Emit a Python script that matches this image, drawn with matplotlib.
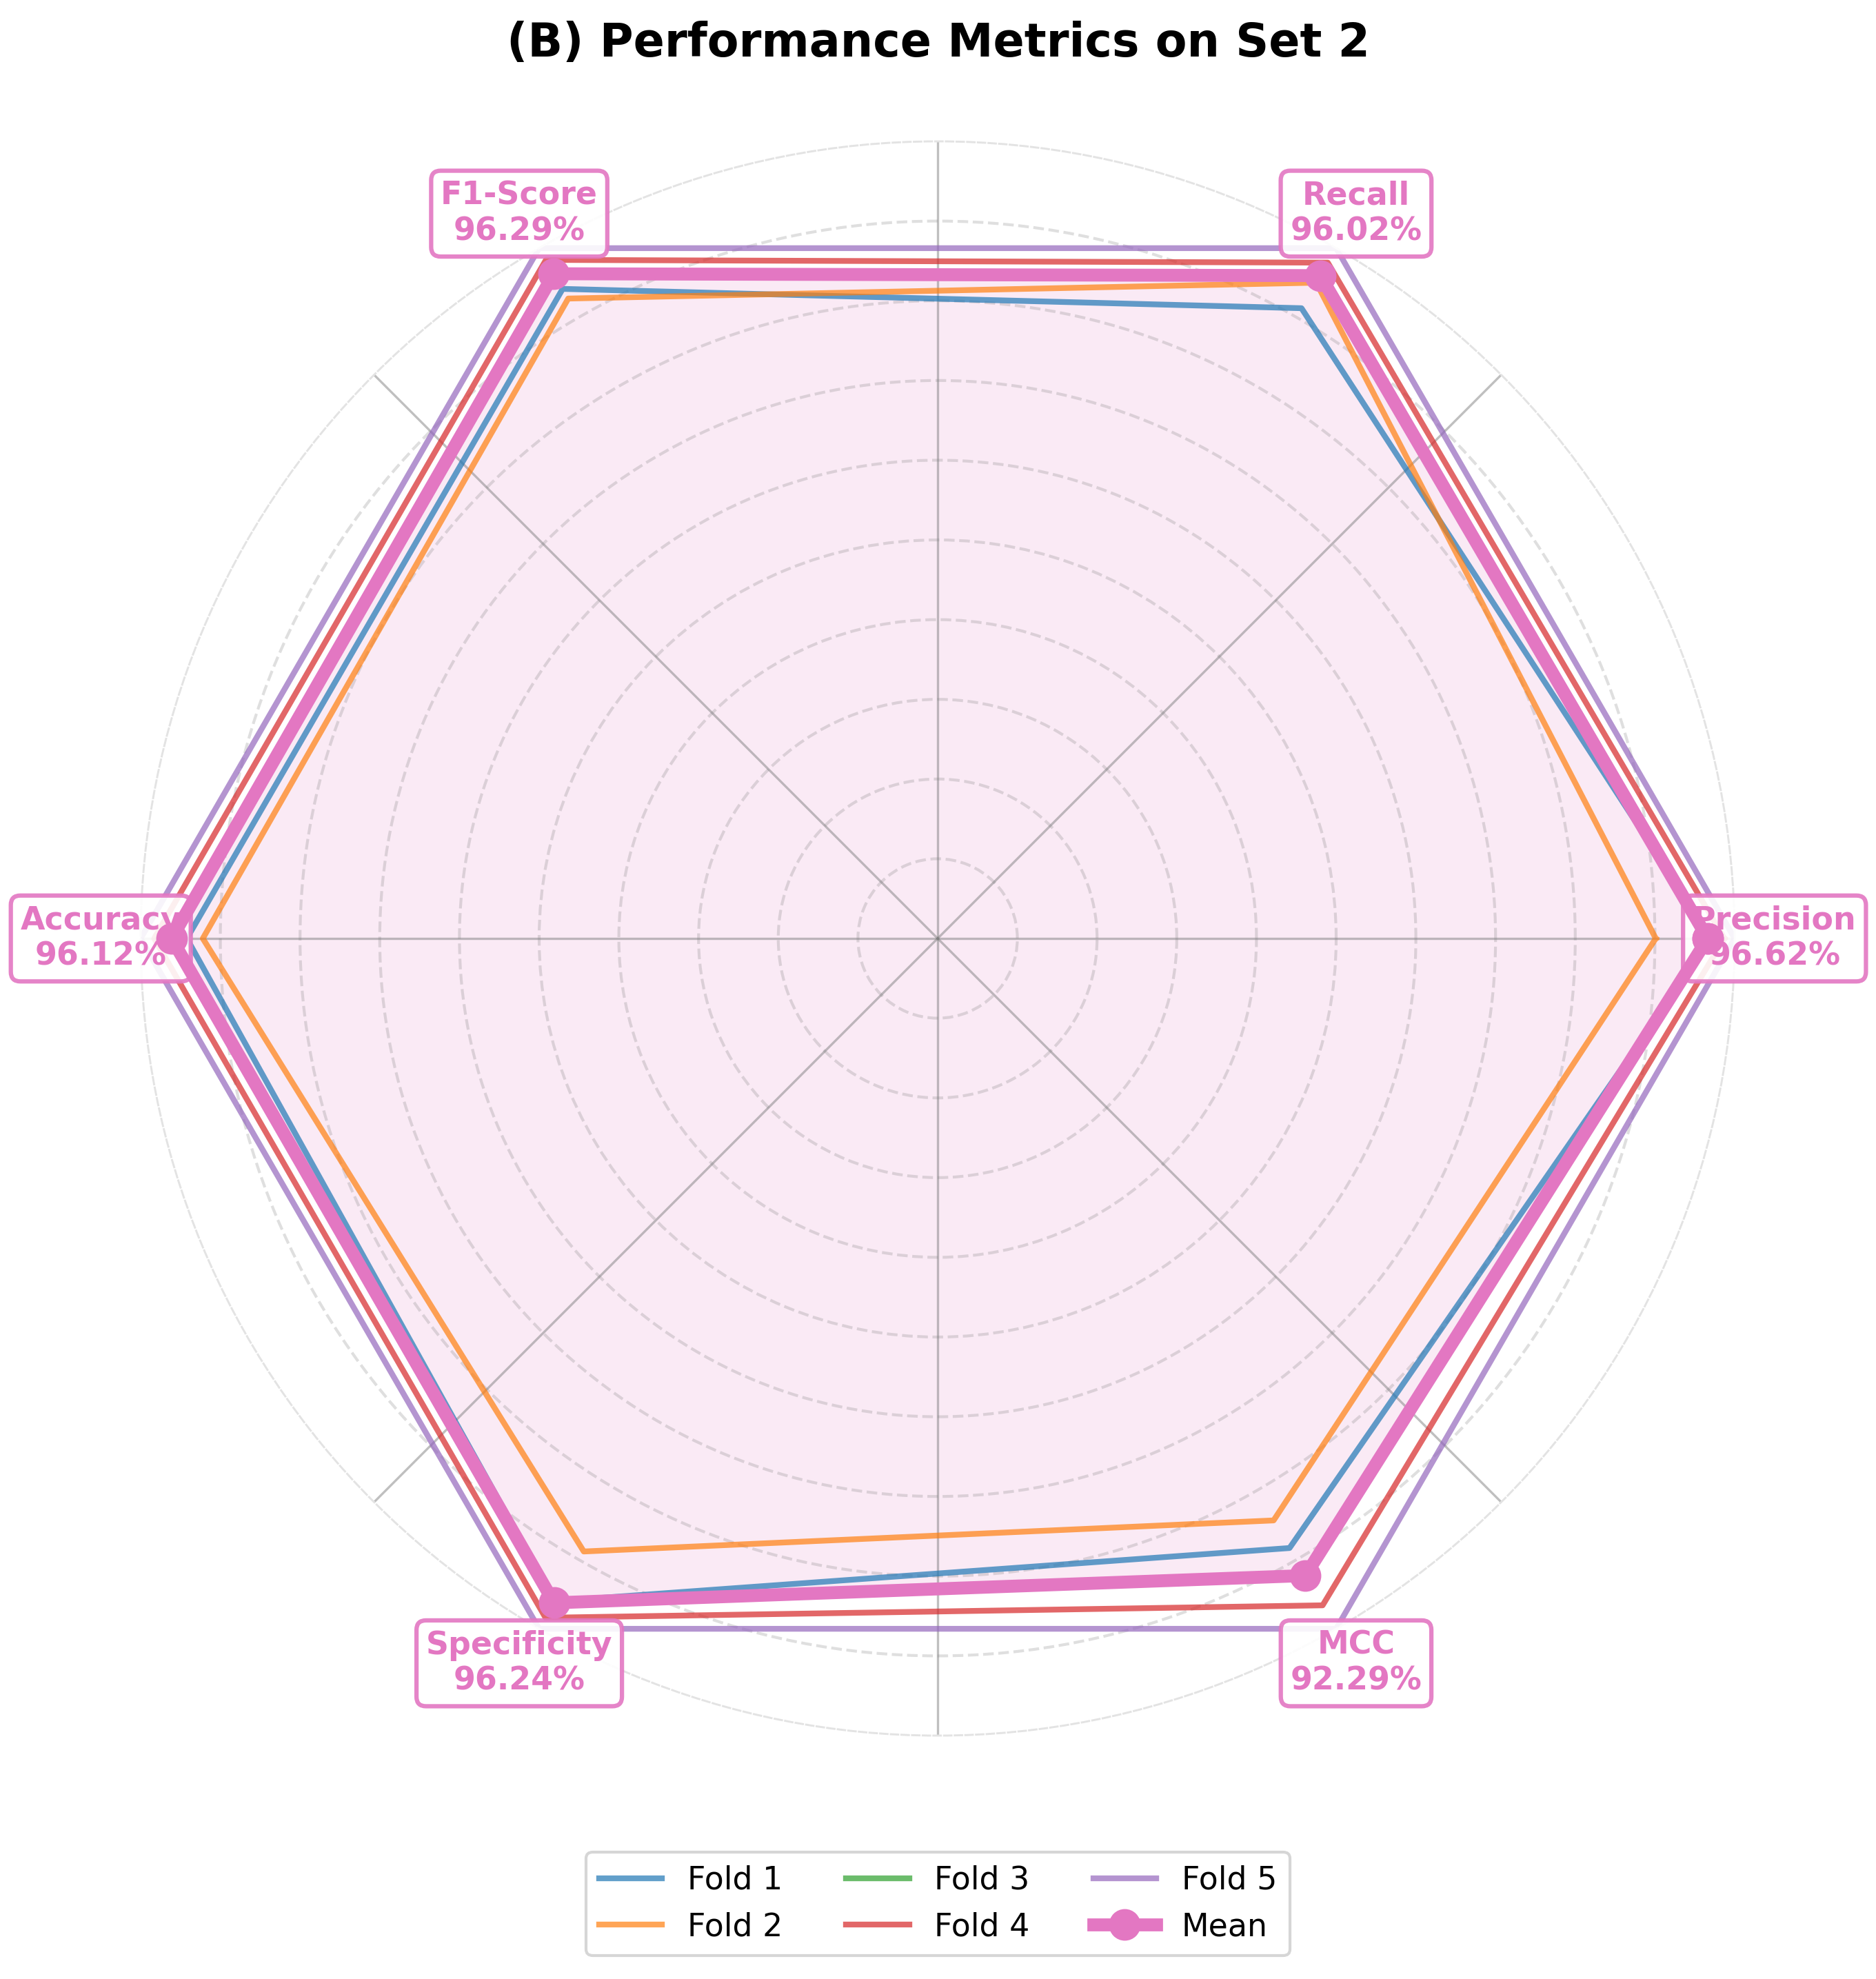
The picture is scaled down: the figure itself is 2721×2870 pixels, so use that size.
import numpy as np
import matplotlib
matplotlib.use("Agg")
import matplotlib.pyplot as plt

# metrics around the radar, counter-clockwise from the right
metrics = ['Precision', 'Recall', 'F1-Score', 'Accuracy', 'Specificity', 'MCC']

# per-fold scores (%)
fold1 = [97.1, 91.3, 94.1, 94.2, 96.0, 88.3]
fold2 = [90.1, 95.0, 92.7, 92.2, 88.8, 84.3]
fold3 = [96.6, 96.0, 96.3, 96.1, 96.2, 92.3]
fold4 = [98.7, 97.9, 98.3, 98.3, 98.4, 96.6]
fold5 = [100.0, 100.0, 100.0, 100.0, 100.0, 100.0]
mean_scores = [96.62, 96.02, 96.29, 96.12, 96.24, 92.29]

fold_names = ['Fold 1', 'Fold 2', 'Fold 3', 'Fold 4', 'Fold 5']
fold_colors = ['tab:blue', 'tab:orange', 'tab:green', 'tab:red', 'tab:purple']
mean_color = '#e377c2'

W, H, DPI = 2721, 2870, 300
fig = plt.figure(figsize=(W / DPI, H / DPI), dpi=DPI)

# polar axes: centre at (1360, 1361) px, radius 1156 px
cx, cy, R = 1360, 1361, 1156
ax = fig.add_axes([(cx - R) / W, (H - cy - R) / H, 2 * R / W, 2 * R / H],
                  projection='polar')

angles = np.linspace(0, 2 * np.pi, len(metrics), endpoint=False)
ang = np.concatenate([angles, angles[:1]])

def closed(v):
    return np.concatenate([v, v[:1]])

for name, vals, col in zip(fold_names,
                           [fold1, fold2, fold3, fold4, fold5],
                           fold_colors):
    ax.plot(ang, closed(vals), color=col, lw=2, alpha=0.7, label=name, zorder=2)

ax.fill(ang, closed(mean_scores), color=mean_color, alpha=0.15, zorder=1)
ax.plot(ang, closed(mean_scores), color=mean_color, lw=4.5, marker='o',
        markersize=10, label='Mean', zorder=6)

ax.set_ylim(0, 100)
ax.set_yticks(np.arange(10, 100, 10))
ax.set_yticklabels([])
ax.set_xticklabels([])
ax.tick_params(length=0)
ax.yaxis.grid(True, linestyle='--', color='gray', alpha=0.25, lw=1.0)
ax.xaxis.grid(True, linestyle='-', color='gray', alpha=0.5, lw=0.8)
ax.spines['polar'].set_linestyle('--')
ax.spines['polar'].set_color('#e3e3e3')
ax.spines['polar'].set_linewidth(0.7)

# metric labels with mean value
for a, m, v in zip(angles, metrics, mean_scores):
    ax.text(a, 105, f"{m}\n{v:.2f}%", ha='center', va='center',
            fontsize=11, fontweight='bold', color=mean_color, zorder=5,
            bbox=dict(boxstyle='round,pad=0.3', fc='white', ec=mean_color,
                      lw=1.5, alpha=0.9))

fig.text(0.5, 1 - 82 / H, '(B) Performance Metrics on Set 2',
         ha='center', va='baseline', fontsize=16, fontweight='bold')

fig.legend(loc='center', bbox_to_anchor=(0.5, 1 - 2761 / H), ncol=3,
           fontsize=11)

fig.savefig('out.png', dpi=DPI)
